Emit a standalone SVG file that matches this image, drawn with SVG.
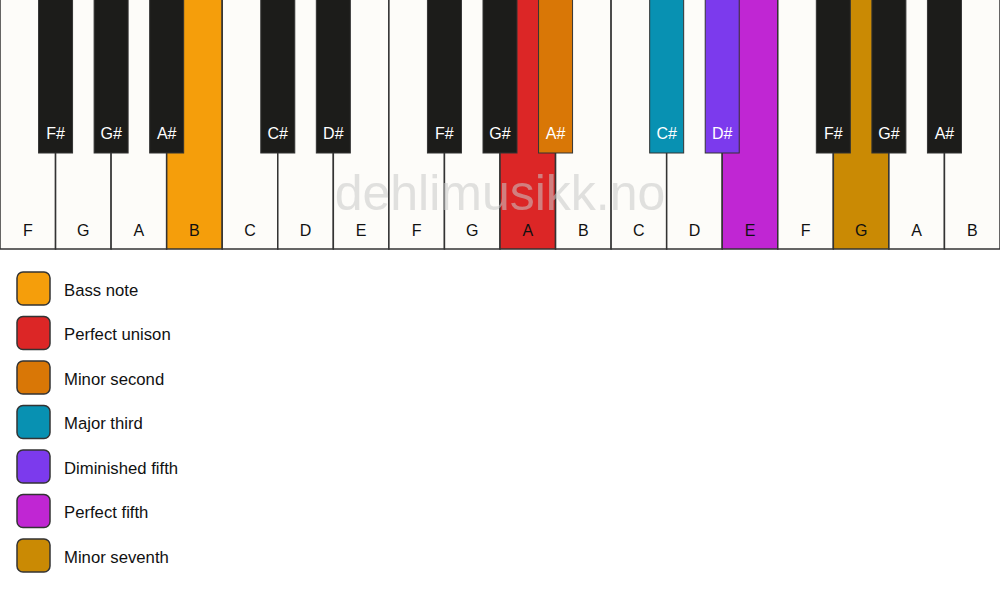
<svg xmlns="http://www.w3.org/2000/svg" width="1000" height="594" viewBox="0 0 1000 594">
<style>
.w{fill:#fdfcf9;stroke:#333;stroke-width:1.5}
.b{fill:#1c1c1a;stroke:#333;stroke-width:1}
.wl{font-family:"Liberation Sans",Arial,sans-serif;font-size:16px;fill:#111;text-anchor:middle}
.bl{font-family:"Liberation Sans",Arial,sans-serif;font-size:16px;fill:#fff;text-anchor:middle}
.lg{stroke:#333;stroke-width:1.5}
.lt{font-family:"Liberation Sans",Arial,sans-serif;font-size:16.7px;fill:#111}
.wm{font-family:"Liberation Sans",Arial,sans-serif;font-size:50px;fill:#c8c8c8;fill-opacity:0.55;text-anchor:middle}
</style>
<rect width="1000" height="594" fill="#fff"/>
<g id="white-keys">
<rect class="w" x="0" y="-2" width="55.56" height="251"/>
<rect class="w" x="55.56" y="-2" width="55.56" height="251"/>
<rect class="w" x="111.11" y="-2" width="55.56" height="251"/>
<rect class="w" x="166.67" y="-2" width="55.56" height="251" style="fill:#f59e0b"/>
<rect class="w" x="222.22" y="-2" width="55.56" height="251"/>
<rect class="w" x="277.78" y="-2" width="55.56" height="251"/>
<rect class="w" x="333.33" y="-2" width="55.56" height="251"/>
<rect class="w" x="388.89" y="-2" width="55.56" height="251"/>
<rect class="w" x="444.44" y="-2" width="55.56" height="251"/>
<rect class="w" x="500" y="-2" width="55.56" height="251" style="fill:#dc2626"/>
<rect class="w" x="555.56" y="-2" width="55.56" height="251"/>
<rect class="w" x="611.11" y="-2" width="55.56" height="251"/>
<rect class="w" x="666.67" y="-2" width="55.56" height="251"/>
<rect class="w" x="722.22" y="-2" width="55.56" height="251" style="fill:#c026d3"/>
<rect class="w" x="777.78" y="-2" width="55.56" height="251"/>
<rect class="w" x="833.33" y="-2" width="55.56" height="251" style="fill:#ca8a04"/>
<rect class="w" x="888.89" y="-2" width="55.56" height="251"/>
<rect class="w" x="944.44" y="-2" width="55.56" height="251"/>
<text class="wl" x="27.78" y="236">F</text>
<text class="wl" x="83.33" y="236">G</text>
<text class="wl" x="138.89" y="236">A</text>
<text class="wl" x="194.44" y="236">B</text>
<text class="wl" x="250" y="236">C</text>
<text class="wl" x="305.56" y="236">D</text>
<text class="wl" x="361.11" y="236">E</text>
<text class="wl" x="416.67" y="236">F</text>
<text class="wl" x="472.22" y="236">G</text>
<text class="wl" x="527.78" y="236">A</text>
<text class="wl" x="583.33" y="236">B</text>
<text class="wl" x="638.89" y="236">C</text>
<text class="wl" x="694.44" y="236">D</text>
<text class="wl" x="750" y="236">E</text>
<text class="wl" x="805.56" y="236">F</text>
<text class="wl" x="861.11" y="236">G</text>
<text class="wl" x="916.67" y="236">A</text>
<text class="wl" x="972.22" y="236">B</text>
</g>
<text class="wm" x="500" y="210">dehlimusikk.no</text>
<g id="black-keys">
<rect class="b" x="38.56" y="-2" width="34" height="155"/>
<rect class="b" x="94.11" y="-2" width="34" height="155"/>
<rect class="b" x="149.67" y="-2" width="34" height="155"/>
<rect class="b" x="260.78" y="-2" width="34" height="155"/>
<rect class="b" x="316.33" y="-2" width="34" height="155"/>
<rect class="b" x="427.44" y="-2" width="34" height="155"/>
<rect class="b" x="483" y="-2" width="34" height="155"/>
<rect class="b" x="538.56" y="-2" width="34" height="155" style="fill:#d97706"/>
<rect class="b" x="649.67" y="-2" width="34" height="155" style="fill:#0891b2"/>
<rect class="b" x="705.22" y="-2" width="34" height="155" style="fill:#7c3aed"/>
<rect class="b" x="816.33" y="-2" width="34" height="155"/>
<rect class="b" x="871.89" y="-2" width="34" height="155"/>
<rect class="b" x="927.44" y="-2" width="34" height="155"/>
<text class="bl" x="55.56" y="139">F#</text>
<text class="bl" x="111.11" y="139">G#</text>
<text class="bl" x="166.67" y="139">A#</text>
<text class="bl" x="277.78" y="139">C#</text>
<text class="bl" x="333.33" y="139">D#</text>
<text class="bl" x="444.44" y="139">F#</text>
<text class="bl" x="500" y="139">G#</text>
<text class="bl" x="555.56" y="139">A#</text>
<text class="bl" x="666.67" y="139">C#</text>
<text class="bl" x="722.22" y="139">D#</text>
<text class="bl" x="833.33" y="139">F#</text>
<text class="bl" x="888.89" y="139">G#</text>
<text class="bl" x="944.44" y="139">A#</text>
</g>
<g id="legend">
<rect class="lg" x="17" y="272" width="33" height="33" rx="6" fill="#f59e0b"/>
<text class="lt" x="64" y="295.5">Bass note</text>
<rect class="lg" x="17" y="316.5" width="33" height="33" rx="6" fill="#dc2626"/>
<text class="lt" x="64" y="340">Perfect unison</text>
<rect class="lg" x="17" y="361" width="33" height="33" rx="6" fill="#d97706"/>
<text class="lt" x="64" y="384.5">Minor second</text>
<rect class="lg" x="17" y="405.5" width="33" height="33" rx="6" fill="#0891b2"/>
<text class="lt" x="64" y="429">Major third</text>
<rect class="lg" x="17" y="450" width="33" height="33" rx="6" fill="#7c3aed"/>
<text class="lt" x="64" y="473.5">Diminished fifth</text>
<rect class="lg" x="17" y="494.5" width="33" height="33" rx="6" fill="#c026d3"/>
<text class="lt" x="64" y="518">Perfect fifth</text>
<rect class="lg" x="17" y="539" width="33" height="33" rx="6" fill="#ca8a04"/>
<text class="lt" x="64" y="562.5">Minor seventh</text>
</g>
</svg>
